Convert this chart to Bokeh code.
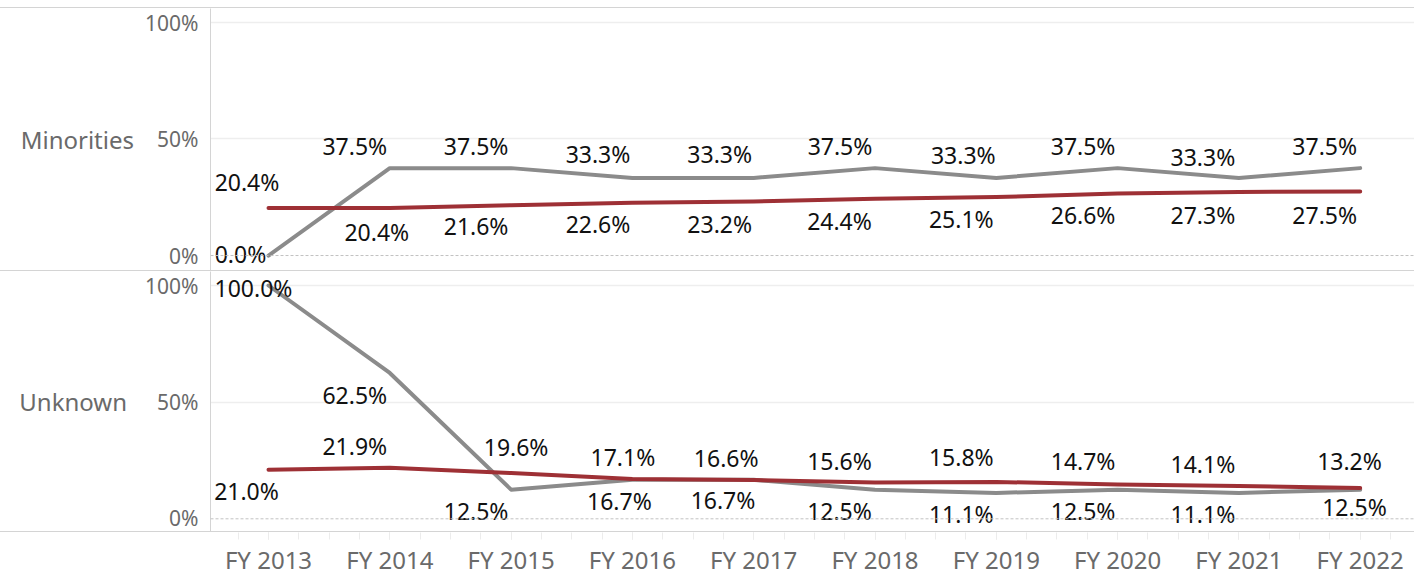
from bokeh.plotting import figure
from bokeh.models import Range1d, FixedTicker, Span, ColumnDataSource, Div
from bokeh.layouts import column
from bokeh.embed import file_html
from bokeh.resources import INLINE
from bokeh.core.properties import value

# ---------------- data ----------------
years = ["FY 2013", "FY 2014", "FY 2015", "FY 2016", "FY 2017",
         "FY 2018", "FY 2019", "FY 2020", "FY 2021", "FY 2022"]
row_labels = ["Minorities", "Unknown"]
# gray series (group) and red series (overall) per row
minorities_gray = [0.0, 37.5, 37.5, 33.3, 33.3, 37.5, 33.3, 37.5, 33.3, 37.5]
minorities_red = [20.4, 20.4, 21.6, 22.6, 23.2, 24.4, 25.1, 26.6, 27.3, 27.5]
unknown_gray = [100.0, 62.5, 12.5, 16.7, 16.7, 12.5, 11.1, 12.5, 11.1, 12.5]
unknown_red = [21.0, 21.9, 19.6, 17.1, 16.6, 15.6, 15.8, 14.7, 14.1, 13.2]
y_ticks = [0, 50, 100]
y_tick_labels = ["0%", "50%", "100%"]

# ---------------- label placement (screen px, relative to the point) -------
min_gray_dx = [-28, -35, -35, -34.4, -34, -35, -33, -34.5, -36, -35.5]
min_gray_dy = [-1.5, -21.5, -21.5, -23, -23, -21.5, -22, -21.5, -20.6, -21.5]
min_red_dx = [-21.5, -13, -35, -34.4, -34, -35.5, -35, -34.5, -36, -35.5]
min_red_dy = [-25, 24.3, 21.7, 21.8, 23, 23, 22.5, 22, 23.7, 24.2]
unk_gray_dx = [-15, -35, -35, -13, -30.7, -35.5, -35, -34.5, -36, -5.7]
unk_gray_dy = [3.5, 23, 22, 21.7, 20.5, 22, 21.6, 22, 21.6, 18]
unk_red_dx = [-22, -35, 5, -9.5, -27.5, -35.5, -35, -34.5, -36, -10.7]
unk_red_dy = [21.5, -21.7, -26, -21.5, -21.3, -21.4, -24, -23, -21.6, -26.5]

# ---------------- style ----------------
W = 1414
FONT = "Noto Sans"
GRAY = "#8b8b8b"
RED = "#9e3035"
DIVIDER = "#d4d4d4"
AXIS_TEXT = "#6a6a6a"
BASE_DY = -0.5  # visual centring correction

idx = list(range(len(years)))
xr = Range1d((210 - 268) / 121.3, (1414 - 268) / 121.3)


def divider(color=DIVIDER, h=1):
    return Div(text="", width=W, height=h, margin=(0, 0, 0, 0),
               styles={"background-color": color, "overflow": "hidden"})


def panel(height, y0, y1, label, label_standoff, gray, red, gdx, gdy, rdx, rdy):
    p = figure(width=W, height=height, x_range=xr, y_range=Range1d(y0, y1),
               output_backend="svg", toolbar_location=None, x_axis_location=None,
               min_border_left=210, min_border_right=0, min_border_top=0,
               min_border_bottom=0, outline_line_color=None,
               background_fill_color="white", border_fill_color="white")
    p.xgrid.visible = False
    p.ygrid.ticker = FixedTicker(ticks=[50, 100])
    p.ygrid.grid_line_color = "#eeeeee"
    p.ygrid.grid_line_width = 1.5
    p.add_layout(Span(location=0, dimension="width", line_color="#c2c2c2",
                      line_width=1, line_dash="3 2"))

    ax = p.yaxis[0]
    ax.ticker = FixedTicker(ticks=y_ticks)
    ax.major_label_overrides = {t: s for t, s in zip(y_ticks, y_tick_labels)}
    ax.major_tick_line_color = None
    ax.minor_tick_line_color = None
    ax.major_tick_out = 0
    ax.major_tick_in = 0
    ax.major_label_standoff = 12
    ax.major_label_text_font = FONT
    ax.major_label_text_font_size = "21px"
    ax.major_label_text_color = AXIS_TEXT
    ax.axis_line_color = DIVIDER
    ax.axis_line_width = 1
    ax.axis_label = label
    ax.axis_label_orientation = "horizontal"
    ax.axis_label_standoff = label_standoff
    ax.axis_label_text_font = FONT
    ax.axis_label_text_font_size = "24px"
    ax.axis_label_text_font_style = "normal"
    ax.axis_label_text_color = AXIS_TEXT

    p.line(idx, gray, line_color=GRAY, line_width=4, line_cap="round", line_join="round")
    p.line(idx, red, line_color=RED, line_width=4, line_cap="round", line_join="round")

    xs = idx + idx
    ys = list(gray) + list(red)
    texts = [f"{v:.1f}%" for v in ys]
    dxs = list(gdx) + list(rdx)
    dys = [d + BASE_DY for d in list(gdy) + list(rdy)]
    src = ColumnDataSource(dict(x=xs, y=ys, t=texts, dx=dxs, dy=dys))
    p.text(x="x", y="y", text="t", x_offset="dx", y_offset="dy", source=src,
           text_font=value(FONT), text_font_size="23px", text_color="#111111",
           text_align="center", text_baseline="middle")
    return p


p1 = panel(262, -6.43, 106.0, row_labels[0], 8, minorities_gray, minorities_red,
           min_gray_dx, min_gray_dy, min_red_dx, min_red_dy)
p2 = panel(260, -5.44, 106.0, row_labels[1], 15, unknown_gray, unknown_red,
           unk_gray_dx, unk_gray_dy, unk_red_dx, unk_red_dy)

p3 = figure(width=W, height=41, x_range=xr, y_range=Range1d(0, 1),
            output_backend="svg", toolbar_location=None, y_axis_location=None,
            min_border_left=210, min_border_right=0, min_border_top=0,
            min_border_bottom=3, outline_line_color=None,
            background_fill_color="white", border_fill_color="white")
p3.grid.visible = False
xa = p3.xaxis[0]
xa.ticker = FixedTicker(ticks=idx, minor_ticks=[i * 0.25 for i in range(-1, 38)])
xa.major_label_overrides = {i: y for i, y in zip(idx, years)}
xa.axis_line_color = None
xa.major_tick_line_color = "#e2e2e2"
xa.minor_tick_line_color = "#ececec"
xa.major_tick_out = 7
xa.major_tick_in = 0
xa.minor_tick_out = 7
xa.minor_tick_in = 0
xa.major_label_standoff = 3
xa.major_label_text_font = FONT
xa.major_label_text_font_size = "24px"
xa.major_label_text_color = AXIS_TEXT

layout = column(divider("white", 7), divider(), p1, divider(), p2, divider(), p3,
                spacing=0)

open("out.html", "w").write(file_html(layout, INLINE))
